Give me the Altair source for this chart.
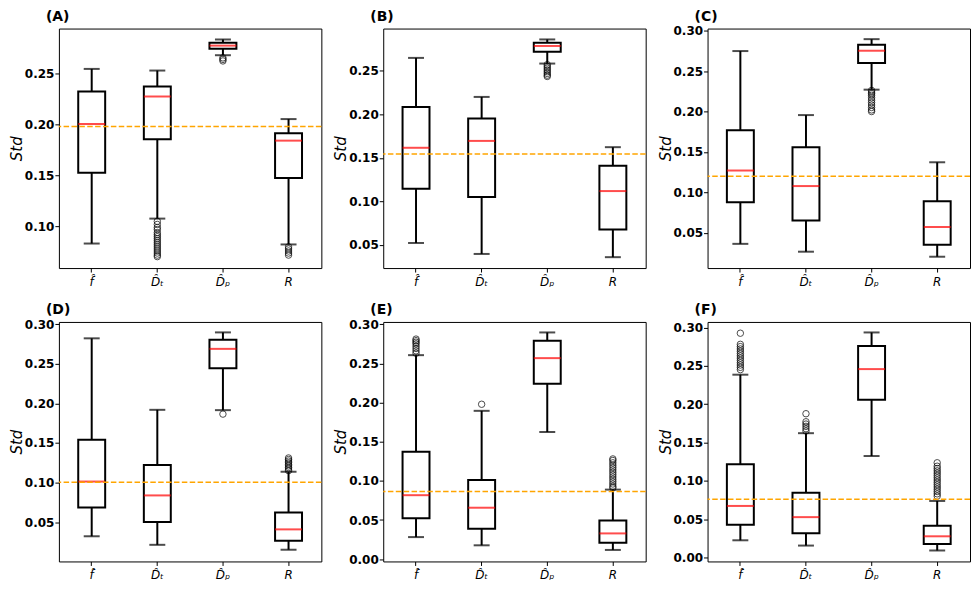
import altair as alt
import pandas as pd

categories = ["f̂", "D̂ₜ", "D̂ₚ", "R"]
panel_titles = ["(A)", "(B)", "(C)", "(D)", "(E)", "(F)"]

whisker_low = [
    [0.0833, 0.1077, 0.2676, 0.0824],
    [0.0523, 0.0397, 0.2583, 0.0360],
    [0.0365, 0.0268, 0.2270, 0.0206],
    [0.0321, 0.0213, 0.1914, 0.0151],
    [0.0282, 0.0177, 0.1624, 0.0118],
    [0.0224, 0.0155, 0.1323, 0.0091],
]
q1 = [
    [0.1526, 0.1853, 0.2740, 0.1474],
    [0.1145, 0.1050, 0.2720, 0.0678],
    [0.0879, 0.0655, 0.2600, 0.0353],
    [0.0683, 0.0500, 0.2443, 0.0263],
    [0.0522, 0.0387, 0.2239, 0.0211],
    [0.0427, 0.0315, 0.2056, 0.0177],
]
median = [
    [0.2003, 0.2272, 0.2770, 0.1840],
    [0.1616, 0.1695, 0.2785, 0.1119],
    [0.1271, 0.1079, 0.2751, 0.0573],
    [0.1012, 0.0837, 0.2688, 0.0408],
    [0.0817, 0.0657, 0.2567, 0.0329],
    [0.0672, 0.0526, 0.2457, 0.0276],
]
q3 = [
    [0.2320, 0.2369, 0.2798, 0.1913],
    [0.2083, 0.1953, 0.2823, 0.1411],
    [0.1768, 0.1560, 0.2825, 0.0892],
    [0.1540, 0.1220, 0.2804, 0.0621],
    [0.1372, 0.1010, 0.2790, 0.0493],
    [0.1216, 0.0845, 0.2759, 0.0414],
]
whisker_high = [
    [0.2542, 0.2526, 0.2830, 0.2051],
    [0.2648, 0.2200, 0.2860, 0.1623],
    [0.2747, 0.1956, 0.2894, 0.1373],
    [0.2821, 0.1918, 0.2896, 0.1136],
    [0.2605, 0.1894, 0.2895, 0.0888],
    [0.2384, 0.1621, 0.2935, 0.0737],
]
reference_line = [0.1978, 0.1544, 0.1201, 0.1003, 0.0863, 0.0759]

outliers = [
    [[], [0.105, 0.102, 0.099, 0.097, 0.094, 0.092, 0.090, 0.088, 0.086, 0.084,
          0.082, 0.080, 0.078, 0.076, 0.074, 0.072, 0.0705],
     [0.265, 0.2635, 0.262], [0.080, 0.078, 0.076, 0.074, 0.072]],
    [[], [], [0.257, 0.255, 0.253, 0.251, 0.249, 0.247, 0.245, 0.2435], []],
    [[], [], [0.226, 0.224, 0.222, 0.220, 0.217, 0.214, 0.211, 0.208, 0.205, 0.202, 0.200], []],
    [[], [], [0.1864], [0.115, 0.117, 0.119, 0.121, 0.123, 0.125, 0.127, 0.129, 0.131]],
    [[0.263, 0.266, 0.269, 0.272, 0.275, 0.277, 0.279, 0.281], [0.1978], [],
     [0.091, 0.093, 0.096, 0.099, 0.102, 0.105, 0.108, 0.111, 0.114, 0.117, 0.120, 0.123, 0.126, 0.128]],
    [[0.245, 0.248, 0.251, 0.254, 0.257, 0.260, 0.263, 0.266, 0.269, 0.272, 0.275, 0.278, 0.2925],
     [0.165, 0.168, 0.171, 0.174, 0.177, 0.1875], [],
     [0.080, 0.083, 0.086, 0.089, 0.092, 0.095, 0.098, 0.101, 0.104, 0.107, 0.110, 0.113, 0.116, 0.119, 0.1235]],
]

y_domains = [
    [0.0593, 0.2937], [0.0235, 0.2985], [0.0066, 0.3025],
    [0.0003, 0.3028], [-0.0029, 0.3029], [-0.0052, 0.3072],
]
y_ticks = [
    [0.10, 0.15, 0.20, 0.25],
    [0.05, 0.10, 0.15, 0.20, 0.25],
    [0.05, 0.10, 0.15, 0.20, 0.25, 0.30],
    [0.05, 0.10, 0.15, 0.20, 0.25, 0.30],
    [0.00, 0.05, 0.10, 0.15, 0.20, 0.25, 0.30],
    [0.00, 0.05, 0.10, 0.15, 0.20, 0.25, 0.30],
]

W, H = 263, 240
FONT = "DejaVu Sans"


def panel(i):
    stats = pd.DataFrame({
        "cat": categories,
        "low": whisker_low[i],
        "q1": q1[i],
        "med": median[i],
        "q3": q3[i],
        "high": whisker_high[i],
    })
    out_rows = [{"cat": c, "v": v} for c, vals in zip(categories, outliers[i]) for v in vals]
    out_df = pd.DataFrame(out_rows if out_rows else [{"cat": "R", "v": None}])
    ref_df = pd.DataFrame({"ref": [reference_line[i]]})
    title_df = pd.DataFrame({"t": [panel_titles[i]]})

    xenc = alt.X("cat:N", sort=categories,
                 scale=alt.Scale(domain=categories, paddingInner=0, paddingOuter=0),
                 axis=alt.Axis(title=None, labelAngle=0, labelFontStyle="italic",
                               labelFontWeight="normal", labelFontSize=12,
                               labelPadding=4, grid=False, domain=False,
                               tickColor="black", tickSize=4, labelColor="black",
                               labelFont=FONT))
    yscale = alt.Scale(domain=y_domains[i], nice=False, zero=False)
    yaxis = alt.Axis(title="Std", values=y_ticks[i], format=".2f",
                     titleFontStyle="italic", titleFontWeight="normal",
                     titleFontSize=15, titlePadding=0, grid=False, domain=False,
                     labelFont=FONT, titleFont=FONT, labelFontSize=12,
                     labelFontWeight="bold", labelColor="black", titleColor="black",
                     tickColor="black", tickSize=4, labelPadding=1)

    base = alt.Chart(stats)
    whisk = base.mark_rule(color="black", strokeWidth=2).encode(
        x=xenc, y=alt.Y("low:Q", scale=yscale, axis=yaxis), y2="high:Q")
    cap_lo = base.mark_tick(color="black", size=16, thickness=2).encode(
        x=xenc, y=alt.Y("low:Q", scale=yscale, axis=yaxis))
    cap_hi = base.mark_tick(color="black", size=16, thickness=2).encode(
        x=xenc, y=alt.Y("high:Q", scale=yscale, axis=yaxis))
    box = base.mark_bar(size=27, fill="white", stroke="black", strokeWidth=2).encode(
        x=xenc, y=alt.Y("q1:Q", scale=yscale, axis=yaxis), y2="q3:Q")
    med = base.mark_tick(color="red", size=27, thickness=2).encode(
        x=xenc, y=alt.Y("med:Q", scale=yscale, axis=yaxis))
    pts = alt.Chart(out_df).mark_point(shape="circle", filled=False, color="black",
                                       strokeWidth=1, size=42).encode(
        x=xenc, y=alt.Y("v:Q", scale=yscale, axis=yaxis))
    ref = alt.Chart(ref_df).mark_rule(color="orange", strokeWidth=1.5,
                                      strokeDash=[5.5, 2.4]).encode(
        y=alt.Y("ref:Q", scale=yscale, axis=yaxis))
    ttl = alt.Chart(title_df).mark_text(
        font=FONT, fontSize=14, fontWeight="bold", color="black",
        align="left", baseline="top").encode(
        x=alt.value(-13), y=alt.value(-19), text="t:N")

    return alt.layer(whisk, cap_lo, cap_hi, box, med, pts, ref, ttl).properties(
        width=W, height=H)


row1 = alt.hconcat(panel(0), panel(1), panel(2), spacing=9)
row2 = alt.hconcat(panel(3), panel(4), panel(5), spacing=9)
chart = alt.vconcat(row1, row2, spacing=14).properties(
    padding={"left": 0, "top": 0, "right": 0, "bottom": 0},
    background="white",
).configure_view(
    stroke="black", strokeWidth=1
)

chart.save("out.html", embed_options={"renderer": "svg", "actions": False})
